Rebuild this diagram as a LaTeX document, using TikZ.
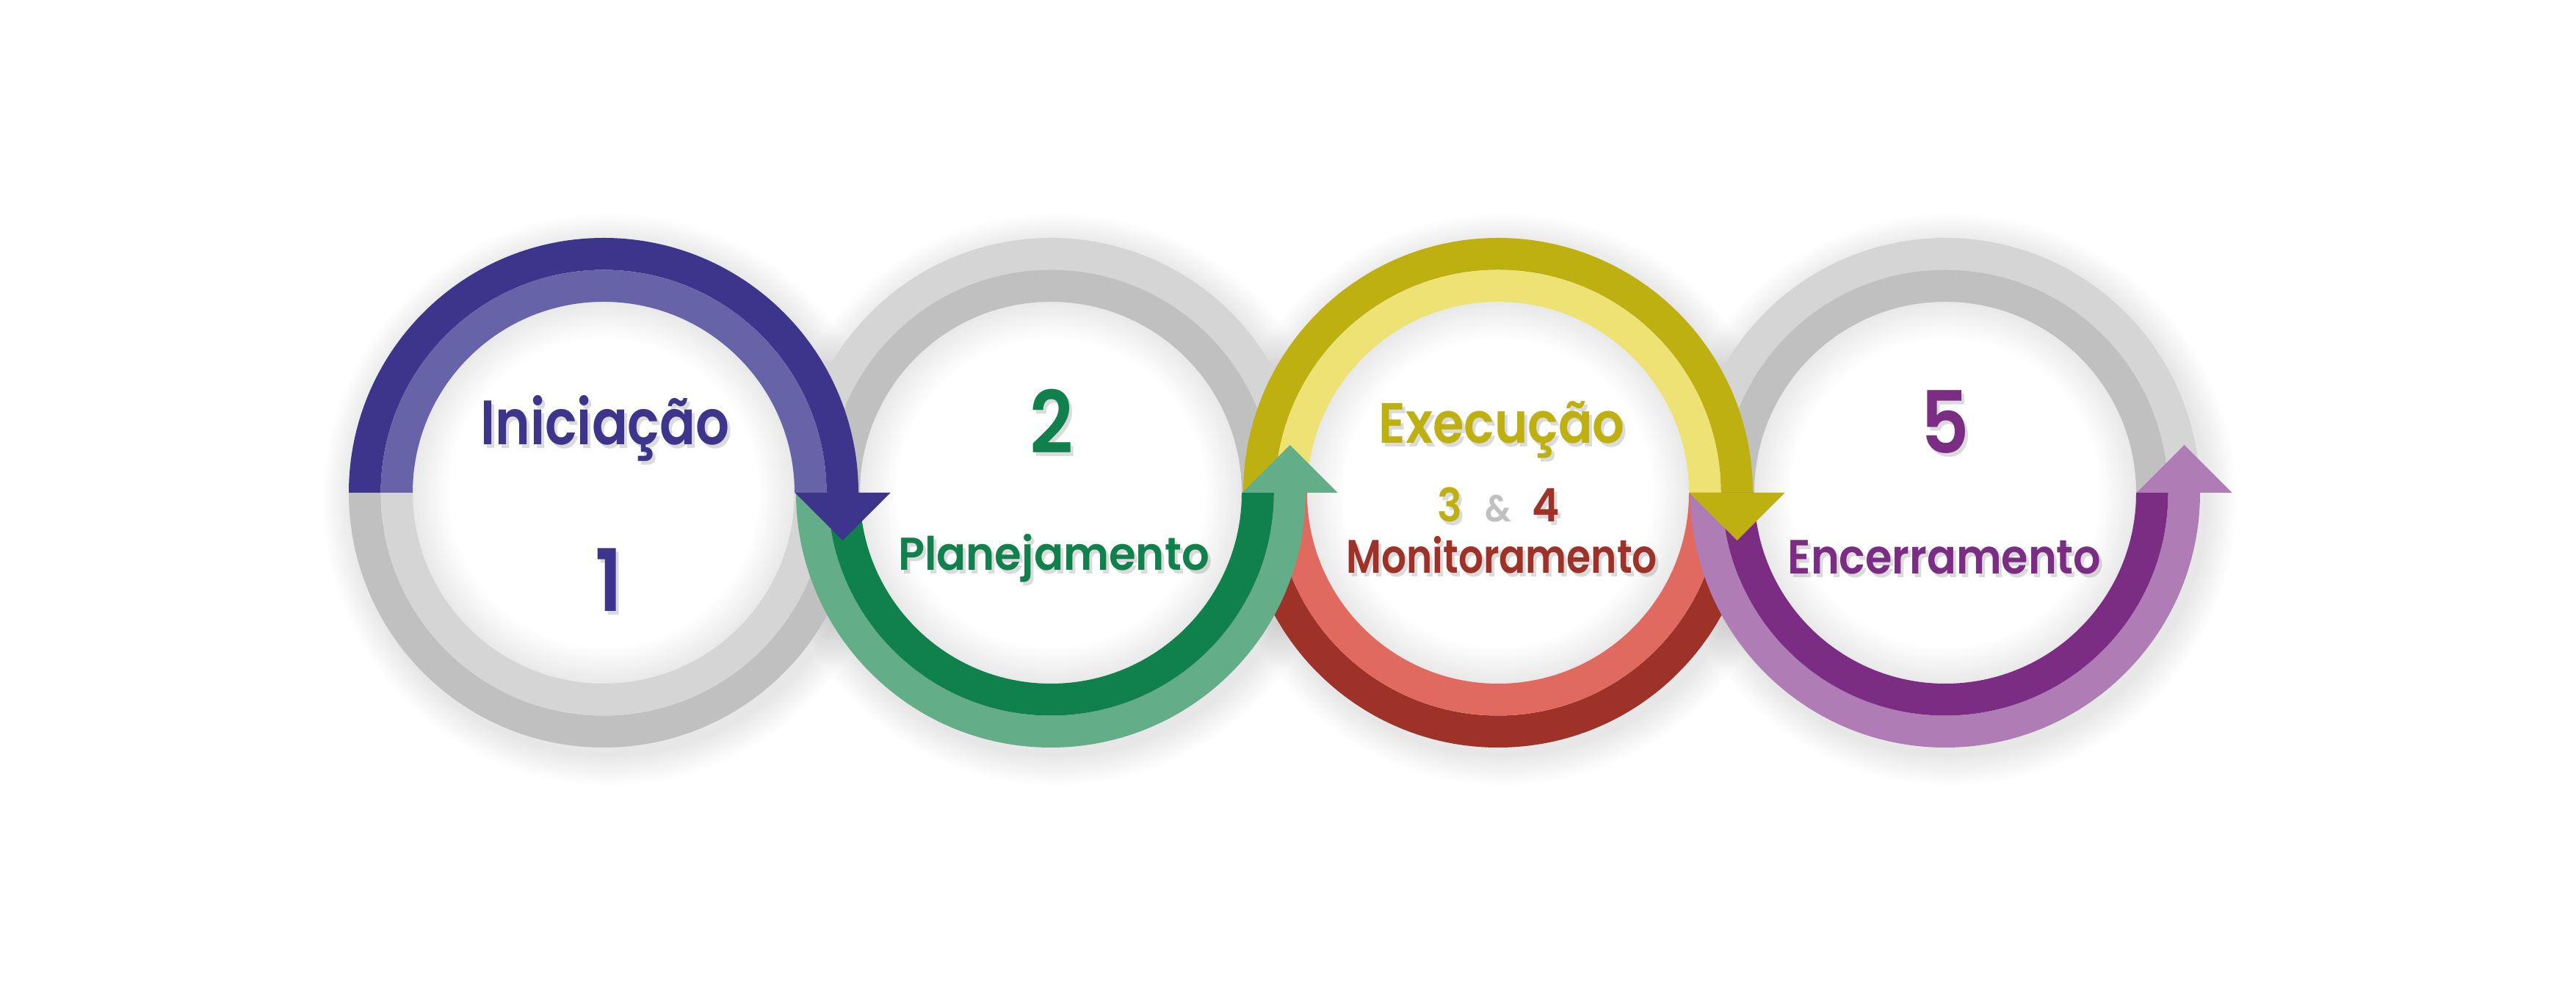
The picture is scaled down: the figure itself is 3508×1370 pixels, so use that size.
\documentclass[tikz,border=0pt]{standalone}
\usepackage{fontspec}
\setmainfont{Poppins}[UprightFont=*-Medium, BoldFont=*-SemiBold]
\usetikzlibrary{calc}
\definecolor{blueD}{HTML}{3D348B}
\definecolor{blueL}{HTML}{6763A8}
\definecolor{greenD}{HTML}{10804C}
\definecolor{greenL}{HTML}{63AD89}
\definecolor{yelD}{HTML}{BFB011}
\definecolor{yelL}{HTML}{EEE274}
\definecolor{redD}{HTML}{9E3228}
\definecolor{redL}{HTML}{E06A5F}
\definecolor{purD}{HTML}{7B2C83}
\definecolor{purL}{HTML}{B07CB6}
\definecolor{grayD}{HTML}{C0C0C0}
\definecolor{grayL}{HTML}{D5D5D5}
\pgfdeclareradialshading{innerglow}{\pgfpoint{0bp}{0bp}}{color(0bp)=(white); color(20bp)=(white); color(25bp)=(black!9); color(50bp)=(black!9)}
% half band: #1 colour, #2 centre, #3 start angle, #4 inner r, #5 outer r
\newcommand\halfband[5]{\fill[#1,shift={(#2)}] (#3:#5) arc[start angle=#3, end angle=#3+180, radius=#5] -- (#3+180:#4) arc[start angle=#3+180, end angle=#3, radius=#4] -- cycle;}
\newcommand\ringhalf[4]{\halfband{#2}{#1}{#4}{303.5}{347}\halfband{#3}{#1}{#4}{260}{303.5}}
% #1 size, #2 horizontal squeeze, #3 text
\newcommand\txt[3]{\scalebox{#2}[1]{\fontsize{#1}{#1}\selectfont\bfseries #3}}
\tikzset{
  lbl/.style={anchor=base, inner sep=0pt},
  shd/.style={lbl, text=black, opacity=0.14},
}
\begin{document}
\begin{tikzpicture}[x=0.2mm,y=0.2mm]
\fill[white] (0,0) rectangle (3508,1370);
\useasboundingbox (0,0) rectangle (3508,1370);
\coordinate (c1) at (822,699);
\coordinate (c2) at (1431,699);
\coordinate (c3) at (2040,699);
\coordinate (c4) at (2649,699);
% drop shadows
\foreach \c in {c1,c2,c3,c4}{
  \foreach \i in {1,...,12}{
    \fill[black,opacity=0.009] ($(\c)+(7,-9)$) circle[radius=347+3.5*\i];
  }
}
% inner discs
\foreach \c in {c1,c2,c3,c4}{
  \shade[shading=innerglow] (\c) circle[radius=261];
}
% grey halves
\ringhalf{c1}{grayD}{grayL}{180}
\ringhalf{c2}{grayL}{grayD}{0}
\ringhalf{c4}{grayL}{grayD}{0}
% red half of ring 3
\ringhalf{c3}{redD}{redL}{180}
% coloured halves
\ringhalf{c1}{blueD}{blueL}{0}
\ringhalf{c2}{greenL}{greenD}{180}
\ringhalf{c3}{yelD}{yelL}{0}
\ringhalf{c4}{purL}{purD}{180}
% arrowheads
\fill[blueD,shift={(c1)}] (260.5,0) -- (390.5,0) -- (325.5,-65) -- cycle;
\fill[greenL,shift={(c2)}] (260.5,0) -- (390.5,0) -- (325.5,65) -- cycle;
\fill[yelD,shift={(c3)}] (260.5,0) -- (390.5,0) -- (325.5,-65) -- cycle;
\fill[purL,shift={(c4)}] (260.5,0) -- (390.5,0) -- (325.5,65) -- cycle;
% texts
\node[shd] (t1s) at (828,759) {\txt{48.6}{0.845}{Iniciação}};
\node[lbl,text=blueD] (t1) at (824,764) {\txt{48.6}{0.845}{Iniciação}};
\node[shd] (n1s) at (833,532) {\txt{66.8}{0.88}{1}};
\node[lbl,text=blueD] (n1) at (829,537) {\txt{66.8}{0.88}{1}};
\node[shd] (n2s) at (1436,747) {\txt{66.8}{0.88}{2}};
\node[lbl,text=greenD] (n2) at (1432,752) {\txt{66.8}{0.88}{2}};
\node[shd] (t2s) at (1439,588) {\txt{35.7}{0.945}{Planejamento}};
\node[lbl,text=greenD] (t2) at (1435,593) {\txt{35.7}{0.945}{Planejamento}};
\node[shd] (t3s) at (2049,761) {\txt{44}{0.89}{Execução}};
\node[lbl,text=yelD] (t3) at (2045,766) {\txt{44}{0.89}{Execução}};
\node[shd] (n3s) at (1978,654) {\txt{35.7}{0.9}{3}};
\node[lbl,text=yelD] (n3) at (1974,659) {\txt{35.7}{0.9}{3}};
\node[lbl,text=grayD] (amp) at (2040,659) {\txt{29}{0.9}{\&}};
\node[shd] (n4s) at (2109,654) {\txt{35.7}{0.9}{4}};
\node[lbl,text=redD] (n4) at (2105,659) {\txt{35.7}{0.9}{4}};
\node[shd] (t4s) at (2049,584) {\txt{36.4}{0.835}{Monitoramento}};
\node[lbl,text=redD] (t4) at (2045,589) {\txt{36.4}{0.835}{Monitoramento}};
\node[shd] (n5s) at (2653,747) {\txt{66.8}{0.88}{5}};
\node[lbl,text=purD] (n5) at (2649,752) {\txt{66.8}{0.88}{5}};
\node[shd] (t5s) at (2652,583) {\txt{37.2}{0.9}{Encerramento}};
\node[lbl,text=purD] (t5) at (2648,588) {\txt{37.2}{0.9}{Encerramento}};
\end{tikzpicture}
\end{document}
